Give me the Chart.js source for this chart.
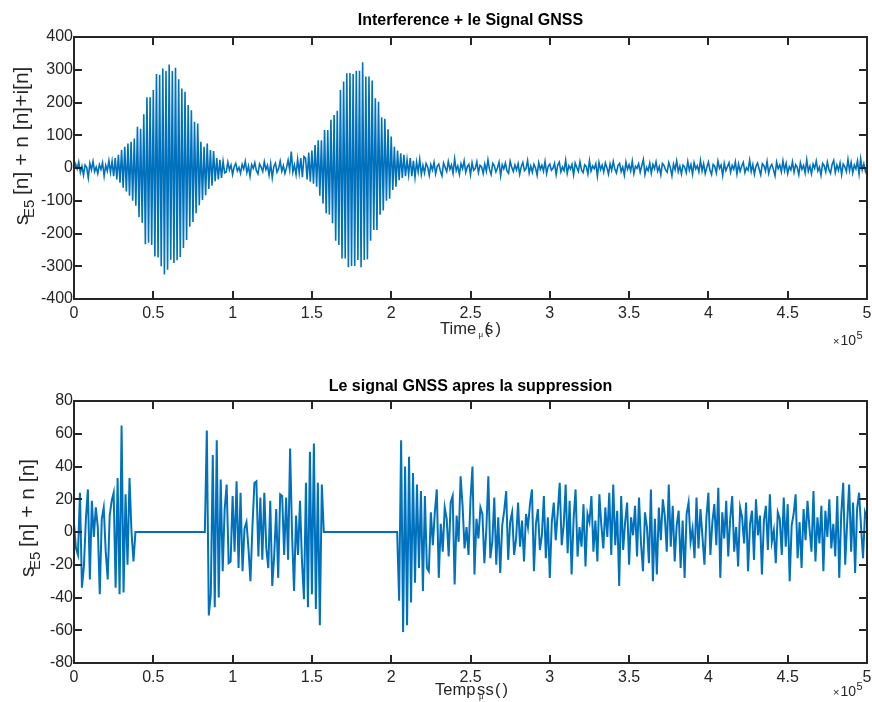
<!DOCTYPE html>
<html>
<head>
<meta charset="utf-8">
<script src="https://cdn.jsdelivr.net/npm/chart.js@4.4.1/dist/chart.umd.min.js"></script>
<style>
  html, body { margin: 0; padding: 0; background: #fff; }
  #wrap { position: relative; width: 872px; height: 702px; }
  canvas { position: absolute; left: 0; }
  #topChart { top: 0; }
  #bottomChart { top: 350px; }
</style>
</head>
<body>
<div id="wrap">
  <canvas id="topChart" width="872" height="350"></canvas>
  <canvas id="bottomChart" width="872" height="352"></canvas>
</div>
<script>
// sample spacing (same unit as the x axis)
const topStep = 1000;
const bottomStep = 1250;

// received signal: noise, two interference bursts, noise
const topLead = [-8, 12, -3, 18, -14, 5, -22, 9, 2, -30, 14, -6, 20, -11, 3, -17, 10, -4, 16, -25, 8, -9, 22, -13];
const topBurst1 = [20, -25, 30, -35, 40, -45, 55, -60, 65, -72, 75, -85, 80, -100, 90, -115, 126, -150, 120, -167,
  164, -233, 216, -228, 216, -235, 238, -270, 287, -273, 285, -300, 304, -325, 296, -311, 316, -280, 296, -290,
  306, -282, 271, -272, 243, -244, 233, -220, 192, -179, 176, -165, 141, -138, 136, -114, 80, -98, 65, -83,
  75, -64, 55, -54, 52, -40, 30, -35, 25, -30, 20, -15];
const topMid = [-12, 18, -6, 9, -20, 4, 14, -9, 2, -16, 11, -3, 20, -14, 6, -25, 10, -1, 16, -8, -18, 12, 3, -11, 19,
  -5, 8, -22, 13, -30, 5, 15, -13, -2, 21, -10, 7, -17, 1, 24, -6, 50, -12, 9, -20, 26, -15, 30, -28, 35];
const topBurst2 = [30, -35, 47, -42, 53, -48, 70, -57, 85, -85, 85, -108, 116, -138, 116, -143, 147, -169, 162, -222,
  175, -235, 238, -276, 264, -276, 289, -303, 290, -299, 287, -299, 297, -281, 297, -303, 323, -281, 279, -279,
  279, -222, 267, -189, 213, -189, 202, -143, 155, -130, 150, -100, 118, -94, 96, -67, 65, -57, 53, -37,
  45, -30, 40, -25, 25, -20];
const topTail = [30, -25, 22, -28, 18, -12, 26, -20, 8, -15, 14, 3, -22, 10, -6, 17, -18, 5, 12, -9, -24, 15, 2, -11, 20, -4, 9, -16, 28, -8,
  6, -19, 13, -2, 22, -13, 4, 11, -21, 16, -7, -1, 19, -14, 8, 3, -17, 12, -10, 25, -5, -20, 14, 7, -12, 1, 18, -24, 10, -3,
  15, -9, -16, 21, 2, -11, 9, -6, 13, -19, 4, 17, -8, -2, 23, -15, 6, -13, 11, 0, -22, 16, -4, 8, -10, 20, -17, 5, 12, -7,
  -1, 14, -20, 9, 18, -12, 3, -8, 24, -16, 7, -3, 11, -21, 15, 2, -10, 19, -6, -14, 10, 4, -18, 22, -9, 6, -2, 13, -25, 17,
  -5, 9, -12, 16, 1, -19, 12, -7, 20, -3, -15, 8, 14, -11, 3, -22, 18, -4, 10, -9, 21, -17, 5, -1, 13, -13, 7, 26, -20, 2,
  -8, 15, -16, 11, -2, 19, -10, 4, -21, 14, 8, -6, -13, 17, 1, -24, 12, -5, 22, -11, 6, -18, 9, 3, -14, 20, -7, 10, -19, 16,
  -3, 7, -12, 23, -9, 13, -17, 2, 18, -6, -20, 11, 5, -15, 21, -1, 9, -23, 14, -8, 4, 16, -13, 8, -4, 19, -18, 12, -10, 6,
  17, -14, 1, -7, 24, -11, 10, -19, 5, 15, -3, -21, 13, 7, -9, 20, -16, 3, 11, -5, -24, 18, -2, 9, -12, 22, -8, 14, -17, 4,
  -6, 19, -13, 10, 2, -20, 16, -4, 8, -15, 25, -10, 6, -18, 12, -1, 21, -9, 3, -22, 14, 7, -12, 18, -5, -16, 11, 23, -14, 9,
  -7, 15, -20, 12, 4, -11, 26, -8, 17, -15, 9, -3, 22, -18, 28, -6, 13, -10, 5];

// signal after suppression: zeroed where the interference was detected
const botLead = [5, -10, -14, 24, -34, -21, 8, 26, -29, 19, -3, 15, 3, -38, 8, 15, -12, -29, 10, 19, 24, -34, 33, -38, 65,
  -37, 23, -20, 33];
const botCut1 = [0, -18, 0, 0, 0, 0, 0, 0, 0, 0, 0, 0, 0, 0, 0, 0, 0, 0, 0, 0, 0, 0, 0, 0, 0, 0, 0, 0, 0, 0, 0, 0, 0, 0,
  0, 0, 0, 0];
const botMid = [62, -51, -38, 47, -46, 56, -40, 32, -24, 14, 29, -19, -18, 22, -12, 31, -22, 24, -24, 2, 6, -10, -30, 3,
  30, 31, -15, 21, -17, 24, -10, -22, 19, -33, -14, 14, -28, 23, 22, -14, 21, -17, 51, -2, -36, 10, -14, 19, -18, -41,
  30, -46, 49, -38, 54, -47, 30, -57, 29];
const botCut2 = [0, 0, 0, 0, 0, 0, 0, 0, 0, 0, 0, 0, 0, 0, 0, 0, 0, 0, 0, 0, 0, 0, 0, 0, 0, 0, 0, 0, 0, 0, 0, 0, 0, 0,
  0, 0, 0, 0];
const botTail = [-42, 56, -61, 40, -57, 46, -43, 36, -31, 29,
  -22, 25, -36, 22, -22, -24, 12, -8, 12, 26, -28, 5, -12, 15, 8, -15, 18, 22, -32, 10, -6, 34, 16, -10, 3, -14, 20, 40, -26, 8,
  -4, 15, 11, -19, 2, 34, -16, -6, 21, -20, 9, -25, 4, 13, 25, -17, 6, 12, -14, -4, 18, -9, 7, -18, 11, 3, 17, 26, -24, 5,
  14, -11, -2, 22, -16, 9, -28, 6, 18, -5, 12, 30, -8, 4, 29, -13, 19, -26, 8, 26, -15, 3, -9, 17, -21, 11, 6, 22, -12, 7,
  -18, 23, 4, -10, 15, -3, 24, -14, 29, -8, 13, -33, 22, -11, 6, 18, -20, 9, -2, 16, -15, 21, -7, -24, 12, 3, -19, 26, -30, 8,
  -26, 15, -5, 20, 10, -12, 29, -9, 16, -18, 4, 13, -22, 7, -28, 11, 18, -6, 2, -16, 21, -10, 14, -3, -20, 9, 24, -14, 6, 17,
  -8, 27, -28, 12, -4, 19, -15, 8, 22, -12, 3, -21, 15, 9, -7, 18, -24, 5, 13, -17, 20, -2, 10, -26, 7, 16, -11, 23, -6, 1,
  -19, 12, 8, -14, 21, -9, 17, -30, 4, 11, 23, -16, 6, -22, 14, -5, 19, 2, -12, 25, -18, 9, -7, 16, -24, 13, -3, 20, -10, 5,
  -15, 22, -28, 11, 30, -20, 6, 29, -12, 18, -25, 14, 24, 3, -16, 12, 8];

const xTickLabels = ["0", "0.5", "1", "1.5", "2", "2.5", "3", "3.5", "4", "4.5", "5"];

const LINE = "#0072BD";
const AXIS = "#262626";
const FONT = "'Liberation Sans', Arial, Helvetica, sans-serif";

function toPoints(values, step) {
  return values.map((v, i) => ({ x: i * step, y: v }));
}

// box with inward ticks on all four sides, plus titles and axis labels
const framePlugin = {
  id: "frame",
  afterDraw(chart, args, opts) {
    const { ctx, chartArea: a } = chart;
    const xs = chart.scales.x, ys = chart.scales.y;
    ctx.save();
    ctx.strokeStyle = AXIS;
    ctx.lineWidth = 2;
    ctx.beginPath();
    xs.ticks.forEach(t => {
      const px = Math.round(xs.getPixelForValue(t.value));
      ctx.moveTo(px, a.bottom); ctx.lineTo(px, a.bottom - 8);
      ctx.moveTo(px, a.top); ctx.lineTo(px, a.top + 8);
    });
    ys.ticks.forEach(t => {
      const py = Math.round(ys.getPixelForValue(t.value));
      ctx.moveTo(a.left, py); ctx.lineTo(a.left + 8, py);
      ctx.moveTo(a.right, py); ctx.lineTo(a.right - 8, py);
    });
    ctx.stroke();
    ctx.strokeRect(a.left, a.top, a.right - a.left, a.bottom - a.top);

    // title
    ctx.fillStyle = "#000";
    ctx.font = "bold 16px " + FONT;
    ctx.textAlign = "center";
    ctx.textBaseline = "alphabetic";
    ctx.fillText(opts.title, (a.left + a.right) / 2, opts.titleY);

    // x label pieces
    ctx.fillStyle = AXIS;
    ctx.textAlign = "left";
    opts.xLabel.forEach(p => {
      ctx.font = p.size + "px " + FONT;
      ctx.fillText(p.text, p.x, p.y);
    });

    // exponent under the right end of the x axis
    const ey = opts.expY;
    ctx.font = "11px " + FONT;
    ctx.fillText("\u00d7", 833, ey);
    ctx.font = "14px " + FONT;
    ctx.fillText("10", 840.5, ey);
    ctx.font = "11px " + FONT;
    ctx.fillText("5", 856.5, ey - 6);

    // rotated y label with subscript
    ctx.translate(opts.yLabelX, opts.yLabelStart);
    ctx.rotate(-Math.PI / 2);
    ctx.font = "21px " + FONT;
    ctx.fillText("s", 0, 0);
    ctx.font = "15px " + FONT;
    ctx.fillText("E5", 7, 6);
    ctx.font = "21px " + FONT;
    ctx.fillText(opts.yLabelRest, 30, 0);
    ctx.restore();
  }
};

function axisOptions(yMin, yMax, yStep, xAxisHeight, padTop, lineWidth) {
  const tickFont = { family: FONT, size: 16 };
  return {
    responsive: false,
    animation: false,
    events: [],
    layout: { padding: { top: padTop, right: 5, left: 0, bottom: 0 } },
    plugins: { legend: { display: false }, tooltip: { enabled: false } },
    elements: { point: { radius: 0 }, line: { borderWidth: lineWidth, tension: 0 } },
    scales: {
      x: {
        type: "linear", min: 0, max: 500000,
        grid: { display: false, drawTicks: false },
        border: { display: false },
        ticks: {
          stepSize: 50000, autoSkip: false, maxRotation: 0, padding: 5,
          color: AXIS, font: tickFont,
          callback: (v, i) => xTickLabels[i]
        },
        afterFit: s => { s.height = xAxisHeight; s.paddingLeft = 0; s.paddingRight = 0; }
      },
      y: {
        type: "linear", min: yMin, max: yMax,
        grid: { display: false, drawTicks: false },
        border: { display: false },
        ticks: { stepSize: yStep, padding: 1, color: AXIS, font: tickFont },
        afterFit: s => { s.width = 74; s.paddingTop = 0; s.paddingBottom = 0; }
      }
    }
  };
}

const topValues = [].concat(topLead, topBurst1, topMid, topBurst2, topTail);
const bottomValues = [].concat(botLead, botCut1, botMid, botCut2, botTail);

const topOpts = axisOptions(-400, 400, 100, 51, 37, 1.6);
topOpts.plugins.frame = {
  title: "Interference + le Signal GNSS", titleY: 25,
  xLabel: [
    { text: "Time", x: 440, y: 333.5, size: 16.5 },
    { text: "\u03bc", x: 478.5, y: 337, size: 8 },
    { text: "(", x: 484.5, y: 333.5, size: 16.5 },
    { text: "s", x: 485, y: 333.5, size: 16.5 },
    { text: ")", x: 495.5, y: 333.5, size: 16.5 }
  ],
  expY: 345,
  yLabelX: 27.5, yLabelStart: 225, yLabelRest: "[n] + n [n]+i[n]"
};

new Chart(document.getElementById("topChart"), {
  type: "line",
  data: { datasets: [{ data: toPoints(topValues, topStep), borderColor: LINE }] },
  options: topOpts,
  plugins: [framePlugin]
});

const bottomOpts = axisOptions(-80, 80, 20, 39, 51, 2);
bottomOpts.plugins.frame = {
  title: "Le signal GNSS apres la suppression", titleY: 41,
  xLabel: [
    { text: "Temp", x: 435, y: 344.5, size: 16.5 },
    { text: "s", x: 477, y: 344.5, size: 16.5 },
    { text: "\u03bc", x: 479, y: 349, size: 8 },
    { text: "s", x: 485.5, y: 344.5, size: 16.5 },
    { text: "(", x: 495, y: 344.5, size: 16.5 },
    { text: ")", x: 502.5, y: 344.5, size: 16.5 }
  ],
  expY: 346,
  yLabelX: 34, yLabelStart: 227, yLabelRest: "[n] + n [n]"
};

new Chart(document.getElementById("bottomChart"), {
  type: "line",
  data: { datasets: [{ data: toPoints(bottomValues, bottomStep), borderColor: LINE }] },
  options: bottomOpts,
  plugins: [framePlugin]
});
</script>
</body>
</html>
